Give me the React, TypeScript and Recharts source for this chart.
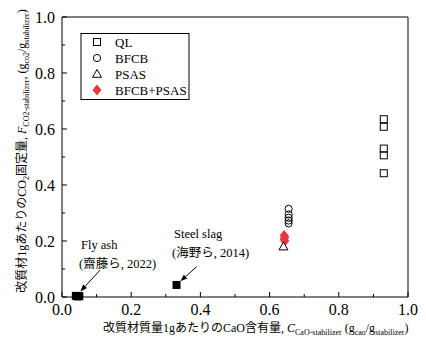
import React from 'react';
import { ScatterChart, Scatter, XAxis, YAxis, ReferenceLine } from 'recharts';

// values
const qlData = [
  { x: 0.93, y: 0.635 },
  { x: 0.93, y: 0.608 },
  { x: 0.93, y: 0.53 },
  { x: 0.93, y: 0.506 },
  { x: 0.93, y: 0.442 },
];
const bfcbData = [
  { x: 0.655, y: 0.315 },
  { x: 0.655, y: 0.295 },
  { x: 0.655, y: 0.283 },
  { x: 0.655, y: 0.273 },
  { x: 0.655, y: 0.263 },
];
const psasData = [{ x: 0.64, y: 0.18 }];
const mixData = [
  { x: 0.642, y: 0.22 },
  { x: 0.644, y: 0.214 },
  { x: 0.642, y: 0.207 },
  { x: 0.644, y: 0.2 },
];
const flyAshData = [
  { x: 0.04, y: 0.004 },
  { x: 0.045, y: 0.002 },
  { x: 0.05, y: 0.003 },
];
const steelSlagData = [{ x: 0.331, y: 0.043 }];

const flyAshArrow = [{ x: 0.11, y: 0.096 }, { x: 0.053, y: 0.02 }];
const steelSlagArrow = [{ x: 0.389, y: 0.108 }, { x: 0.342, y: 0.056 }];

const ticks = [0, 0.1, 0.2, 0.3, 0.4, 0.5, 0.6, 0.7, 0.8, 0.9, 1.0];
const legendItems = ['QL', 'BFCB', 'PSAS', 'BFCB+PSAS'];

const SERIF = '"Times New Roman", "Liberation Serif", "Noto Sans CJK JP", serif';
const RED = '#e8393c';
const TM = 4;
const txt = { fontFamily: SERIF };

const isMajor = (v: number) => Math.round(v * 10) % 2 === 0;

const BottomTick = (p: any) => {
  const v = p.payload.value;
  const y0 = p.y - TM;
  return (
    <g>
      <line x1={p.x} x2={p.x} y1={y0} y2={y0 - (isMajor(v) ? 5 : 3)} stroke="#000" />
      {isMajor(v) && (
        <text x={p.x} y={y0 + 18} textAnchor="middle" fontSize={16} style={txt} fill="#000">
          {v.toFixed(1)}
        </text>
      )}
    </g>
  );
};

const LeftTick = (p: any) => {
  const v = p.payload.value;
  const x0 = p.x + TM;
  return (
    <g>
      <line x1={x0} x2={x0 + (isMajor(v) ? 5 : 3)} y1={p.y} y2={p.y} stroke="#000" />
      {isMajor(v) && (
        <text x={x0 - 7} y={p.y + 5.5} textAnchor="end" fontSize={16} style={txt} fill="#000">
          {v.toFixed(1)}
        </text>
      )}
    </g>
  );
};

const TopTick = (p: any) => {
  const v = p.payload.value;
  return <line x1={p.x} x2={p.x} y1={p.y} y2={p.y + (isMajor(v) ? 5 : 3)} stroke="#000" />;
};

const RightTick = (p: any) => {
  const v = p.payload.value;
  return <line x1={p.x} x2={p.x - (isMajor(v) ? 5 : 3)} y1={p.y} y2={p.y} stroke="#000" />;
};

const OpenSquare = (p: any) => (
  <rect x={p.cx - 3.5} y={p.cy - 3.5} width={7} height={7} fill="none" stroke="#000" strokeWidth={1} />
);
const OpenCircle = (p: any) => <circle cx={p.cx} cy={p.cy} r={3.6} fill="none" stroke="#000" strokeWidth={1} />;
const OpenTriangle = (p: any) => (
  <path d={`M${p.cx},${p.cy - 4.5}L${p.cx + 4.5},${p.cy + 3.3}L${p.cx - 4.5},${p.cy + 3.3}Z`} fill="#fff" stroke="#000" strokeWidth={1} />
);
const RedDiamond = (p: any) => (
  <path d={`M${p.cx},${p.cy - 5.5}L${p.cx + 4.5},${p.cy}L${p.cx},${p.cy + 5.5}L${p.cx - 4.5},${p.cy}Z`} fill={RED} />
);
const FilledSquare = (p: any) => <rect x={p.cx - 4} y={p.cy - 4} width={8} height={8} fill="#000" />;

const Arrow = (p: any) => {
  const { x1, y1, x2, y2 } = p;
  const a = Math.atan2(y2 - y1, x2 - x1);
  const L = 7;
  const W = 2.6;
  const bx = x2 - L * Math.cos(a);
  const by = y2 - L * Math.sin(a);
  const nx = -Math.sin(a) * W;
  const ny = Math.cos(a) * W;
  return (
    <g>
      <line x1={x1} y1={y1} x2={bx} y2={by} stroke="#000" strokeWidth={1} />
      <path d={`M${x2},${y2}L${bx + nx},${by + ny}L${bx - nx},${by - ny}Z`} fill="#000" />
    </g>
  );
};

const legendSymbol = (name: string, cx: number, cy: number) => {
  if (name === 'QL') return <OpenSquare cx={cx} cy={cy} />;
  if (name === 'BFCB') return <OpenCircle cx={cx} cy={cy} />;
  if (name === 'PSAS') return <OpenTriangle cx={cx} cy={cy} />;
  return <RedDiamond cx={cx} cy={cy} />;
};

export default function App() {
  return (
    <div style={{ position: 'absolute', left: 0, top: 0, width: 426, height: 343, background: '#fff' }}>
      <ScatterChart width={426} height={343} margin={{ top: 7, right: 8, bottom: 16, left: 2 }}>
        <XAxis
          xAxisId="b"
          type="number"
          dataKey="x"
          domain={[0, 1]}
          ticks={ticks}
          orientation="bottom"
          height={30}
          tickSize={0}
          tickMargin={TM}
          tickLine={false}
          tick={BottomTick}
          axisLine={{ stroke: '#000' }}
          interval={0}
        />
        <XAxis
          xAxisId="t"
          type="number"
          dataKey="x"
          domain={[0, 1]}
          ticks={ticks}
          orientation="top"
          height={10}
          tickSize={0}
          tickMargin={0}
          tickLine={false}
          tick={TopTick}
          axisLine={{ stroke: '#000' }}
          interval={0}
        />
        <YAxis
          yAxisId="l"
          type="number"
          dataKey="y"
          domain={[0, 1]}
          ticks={ticks}
          orientation="left"
          width={60}
          tickSize={0}
          tickMargin={TM}
          tickLine={false}
          tick={LeftTick}
          axisLine={{ stroke: '#000' }}
          interval={0}
        />
        <YAxis
          yAxisId="r"
          type="number"
          dataKey="y"
          domain={[0, 1]}
          ticks={ticks}
          orientation="right"
          width={10}
          tickSize={0}
          tickMargin={0}
          tickLine={false}
          tick={RightTick}
          axisLine={{ stroke: '#000' }}
          interval={0}
        />
        <ReferenceLine xAxisId="b" yAxisId="l" segment={flyAshArrow} shape={Arrow} ifOverflow="visible" />
        <ReferenceLine xAxisId="b" yAxisId="l" segment={steelSlagArrow} shape={Arrow} ifOverflow="visible" />
        <Scatter name="QL" data={qlData} xAxisId="b" yAxisId="l" shape={OpenSquare} isAnimationActive={false} />
        <Scatter name="BFCB" data={bfcbData} xAxisId="b" yAxisId="l" shape={OpenCircle} isAnimationActive={false} />
        <Scatter name="BFCB+PSAS" data={mixData} xAxisId="b" yAxisId="l" shape={RedDiamond} isAnimationActive={false} />
        <Scatter name="PSAS" data={psasData} xAxisId="b" yAxisId="l" shape={OpenTriangle} isAnimationActive={false} />
        <Scatter name="Fly ash" data={flyAshData} xAxisId="b" yAxisId="l" shape={FilledSquare} isAnimationActive={false} />
        <Scatter name="Steel slag" data={steelSlagData} xAxisId="b" yAxisId="l" shape={FilledSquare} isAnimationActive={false} />
      </ScatterChart>
      <svg
        width={426}
        height={343}
        style={{ position: 'absolute', left: 0, top: 0, pointerEvents: 'none', fontFamily: SERIF }}
      >
        {/* legend */}
        <rect x={81} y={33.5} width={108} height={66} fill="#fff" stroke="#000" strokeWidth={1} />
        {legendItems.map((name, i) => (
          <g key={name}>
            {legendSymbol(name, 97, 42 + i * 16)}
            <text x={115} y={46.5 + i * 16} fontSize={13} style={txt} fill="#000">
              {name}
            </text>
          </g>
        ))}
        {/* annotations */}
        <text x={81} y={249} fontSize={12.5} style={txt} fill="#000">Fly ash</text>
        <text x={79} y={268} fontSize={12.5} style={txt} fill="#000">(齋藤ら, 2022)</text>
        <text x={174} y={238} fontSize={12.5} style={txt} fill="#000">Steel slag</text>
        <text x={172} y={257} fontSize={12.5} style={txt} fill="#000">(海野ら, 2014)</text>
        {/* x axis title */}
        <text x={103} y={332} fontSize={12} style={txt} fill="#000">
          改質材質量1gあたりのCaO含有量,{' '}
          <tspan fontStyle="italic">C</tspan>
          <tspan fontSize={8} dy={3}>CaO-stabilizer</tspan>
          <tspan dy={-3}> (g</tspan>
          <tspan fontSize={8} dy={3}>cao</tspan>
          <tspan dy={-3}>/g</tspan>
          <tspan fontSize={8} dy={3}>stabilizer</tspan>
          <tspan dy={-3}>)</tspan>
        </text>
        {/* y axis title */}
        <text x={0} y={0} fontSize={12} style={txt} fill="#000" textAnchor="middle" transform="translate(26,151) rotate(-90)">
          改質材1gあたりのCO
          <tspan fontSize={8} dy={3}>2</tspan>
          <tspan dy={-3}>固定量, </tspan>
          <tspan fontStyle="italic">F</tspan>
          <tspan fontSize={8} dy={3}>CO2-stabilizer</tspan>
          <tspan dy={-3}>, (g</tspan>
          <tspan fontSize={8} dy={3}>co2</tspan>
          <tspan dy={-3}>/g</tspan>
          <tspan fontSize={8} dy={3}>stabilizer</tspan>
          <tspan dy={-3}>)</tspan>
        </text>
      </svg>
    </div>
  );
}
